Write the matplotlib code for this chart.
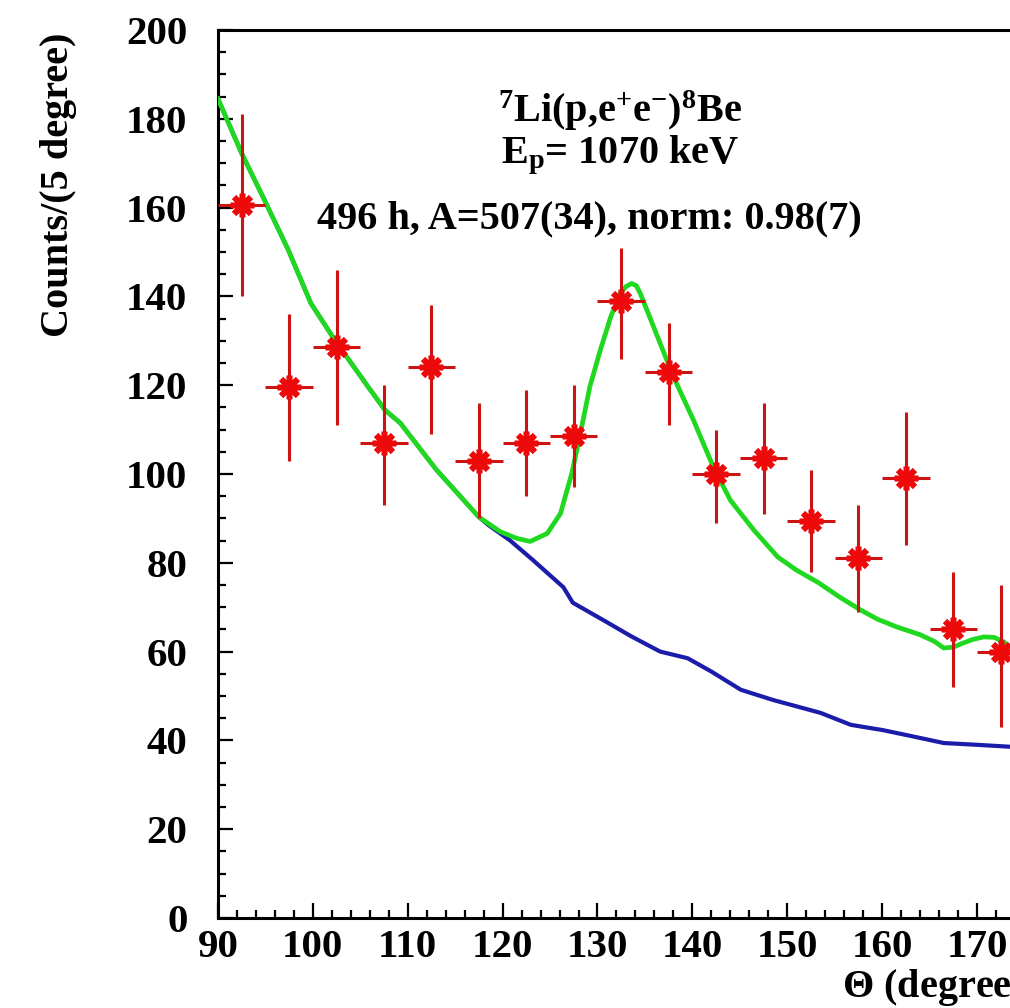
import matplotlib
matplotlib.use("Agg")
import matplotlib.pyplot as plt
from matplotlib.ticker import MultipleLocator

plt.rcParams['font.family'] = ['Liberation Serif', 'DejaVu Serif']
plt.rcParams['font.weight'] = 'bold'
plt.rcParams['mathtext.fontset'] = 'custom'
plt.rcParams['mathtext.rm'] = 'Liberation Serif:bold'
plt.rcParams['mathtext.it'] = 'Liberation Serif:bold'
plt.rcParams['mathtext.bf'] = 'Liberation Serif:bold'

# data points (bin centres, counts, errors)
theta = [92.5, 97.5, 102.5, 107.5, 112.5, 117.5, 122.5, 127.5, 132.5,
         137.5, 142.5, 147.5, 152.5, 157.5, 162.5, 167.5, 172.5]
counts = [160.5, 119.5, 128.5, 107, 124, 103, 107, 108.5, 139,
          123, 100, 103.5, 89.5, 81, 99, 65, 60]
err_lo = [20.5, 16.5, 17.5, 14, 15, 13, 12, 11.5, 13,
          12, 11, 12.5, 11.5, 12, 15, 13, 17]
err_hi = [20.5, 16.5, 17.5, 13, 14, 13, 12, 11.5, 12,
          11, 10, 12.5, 11.5, 12, 15, 13, 15]
bin_half = [2.5] * len(theta)

# fit curve (green)
fit_x = [90, 92.5, 94.9, 97.4, 99.8, 102.3, 105.8, 107.6, 109.2, 113, 117.5,
         119.75, 121.5, 122.9, 124.7, 126.1, 127.3, 128.2, 129.2, 130.3,
         131.4, 132.4, 133.0, 133.6, 134.1, 134.5, 135.9, 138.0, 140.1, 142.2,
         144.0, 145.1, 146.5, 149, 151, 153.3, 155.5, 157.7, 159.5, 161.6,
         164, 165.5, 166.5, 167.5, 168.5, 169.5, 170.7, 171.8, 172.8, 174]
fit_y = [184.5, 172.2, 161.7, 150.5, 138.4, 130.2, 119.7, 114.4, 111.5, 101,
         90.3, 87.0, 85.5, 84.8, 86.6, 91.1, 100.2, 109.2, 119.7, 127.9,
         135.4, 140.7, 142.2, 142.9, 142.4, 140.7, 133.2, 121.9, 112.2, 101.6,
         94.1, 91.1, 87.3, 81.3, 78.3, 75.5, 72.3, 69.4, 67.3, 65.5,
         63.8, 62.3, 60.8, 61.0, 61.9, 62.7, 63.3, 63.2, 62.2, 60]

# background curve (blue)
bg_x = [90, 92.5, 94.9, 97.4, 99.8, 102.3, 105.8, 107.6, 109.2, 113, 117.5,
        118.5, 120.8, 123.2, 126.4, 127.4, 130.6, 133.5, 136.6, 139.5, 142,
        145.1, 148.5, 153.5, 156.7, 160.1, 163, 166.5, 170, 174]
bg_y = [184.5, 172.2, 161.7, 150.5, 138.4, 130.2, 119.7, 114.4, 111.5, 101,
        90.3, 88.5, 85, 80.6, 74.5, 71, 67.1, 63.5, 60, 58.5, 55.5,
        51.4, 49.1, 46.2, 43.5, 42.3, 41, 39.4, 39, 38.5]

fig = plt.figure(figsize=(10.10, 10.08), dpi=100)
ax = fig.add_axes([0.2158, 0.0893, 0.8455, 0.8810])

ax.plot(bg_x, bg_y, color='#1c1caa', lw=3.0, zorder=2, solid_joinstyle='round')
ax.plot(fit_x, fit_y, color='#1fd81f', lw=3.4, zorder=3, solid_joinstyle='round')
ax.errorbar(theta, counts, xerr=bin_half, yerr=[err_lo, err_hi], fmt='none',
            ecolor='#cc1414', elinewidth=2.2, capsize=0, zorder=4)
ax.plot(theta, counts, linestyle='none', marker=(8, 2, 0), markersize=17,
        markeredgewidth=4, color='#ee0a0a', zorder=5)
ax.plot(theta, counts, linestyle='none', marker='o', markersize=8,
        color='#ee0a0a', zorder=5)

ax.set_xlim(90, 180)
ax.set_ylim(0, 200)
ax.xaxis.set_major_locator(MultipleLocator(10))
ax.xaxis.set_minor_locator(MultipleLocator(2))
ax.yaxis.set_major_locator(MultipleLocator(20))
ax.yaxis.set_minor_locator(MultipleLocator(5))
ax.set_xticks([90, 100, 110, 120, 130, 140, 150, 160, 170])
ax.tick_params(which='both', direction='in', width=1.6, labelsize=29.5)
ax.tick_params(which='major', length=11)
ax.tick_params(which='minor', length=6)
ax.tick_params(axis='y', pad=22)
ax.tick_params(axis='x', pad=8)
for lab in ax.get_xticklabels() + ax.get_yticklabels():
    lab.set_fontweight('bold')
for s in ax.spines.values():
    s.set_linewidth(2.2)

fig.text(0.058, 0.968, 'Counts/(5 degree)', rotation=90, ha='center', va='top',
         fontsize=29, fontweight='bold')
fig.text(0.834, 0.020, r'$\Theta$ (degree)', ha='left', va='center',
         fontsize=29, fontweight='bold')

ax.text(132.4, 179.3, r'$^{7}$Li(p,e$^{+}$e$^{-}$)$^{8}$Be', ha='center',
        va='baseline', fontsize=29, fontweight='bold')
ax.text(132.4, 170.0, r'E$_{\rm p}$= 1070 keV', ha='center', va='baseline',
        fontsize=29, fontweight='bold')
ax.text(129.1, 155.4, '496 h, A=507(34), norm: 0.98(7)', ha='center',
        va='baseline', fontsize=29, fontweight='bold')

fig.savefig('out.png', dpi=100)
